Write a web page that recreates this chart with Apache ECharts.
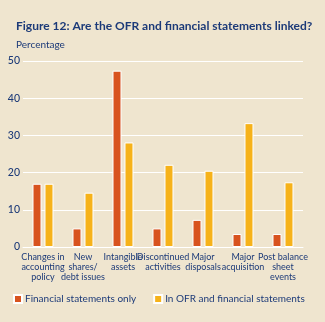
<!DOCTYPE html>
<html><head><meta charset="utf-8">
<script src="https://cdn.jsdelivr.net/npm/echarts@6/dist/echarts.min.js"></script>
<style>html,body{margin:0;padding:0;background:#efe5cf;}#c{width:325px;height:322px;}</style>
</head><body><div id="c"></div>
<script>
const categories = ['Changes in\naccounting\npolicy','New\nshares/\ndebt issues','Intangible\nassets','Discontinued\nactivities','Major\ndisposals','Major\nacquisition','Post balance\nsheet\nevents'];
const finOnly = [17, 5, 47.4, 5, 7.3, 3.5, 3.5];
const ofrAndFin = [17, 14.6, 28.1, 22.1, 20.5, 33.3, 17.4];
const yTicks = [0, 10, 20, 30, 40, 50];
const navy = '#1c3a78';
const font = 'Lato';
const chart = echarts.init(document.getElementById('c'));
chart.setOption({
  backgroundColor: '#efe5cf',
  animation: false,
  textStyle: {fontFamily: font},
  title: [
    {text: 'Figure 12: Are the OFR and financial statements linked?', left: 11, top: 15,
     textStyle: {fontFamily: font, fontSize: 12, fontWeight: 'bold', color: navy}},
    {text: 'Percentage', left: 11, top: 35, textStyle: {fontFamily: font, fontSize: 10, fontWeight: 'normal', color: navy}}
  ],
  legend: {
    bottom: 13, left: 8, itemGap: 17, itemWidth: 8, itemHeight: 8, icon: 'rect',
    textStyle: {fontFamily: font, fontSize: 10, color: navy, padding: [0,0,0,-2]},
    data: ['Financial statements only', 'In OFR and financial statements']
  },
  grid: {left: 23, right: 22, top: 61, bottom: 75, containLabel: false},
  xAxis: {
    type: 'category', data: categories,
    axisLine: {show: true, lineStyle: {color: '#ffffff', width: 1}},
    axisTick: {show: false},
    axisLabel: {interval: 0, color: navy, fontSize: 9, lineHeight: 10, margin: 5, fontFamily: font}
  },
  yAxis: {
    type: 'value', min: 0, max: 50, interval: 10,
    axisLine: {show: false}, axisTick: {show: false},
    splitLine: {lineStyle: {color: '#ffffff', width: 1}},
    axisLabel: {color: navy, fontSize: 10.5, fontWeight: 500, margin: 3, fontFamily: font,
      formatter: v => yTicks.includes(v) ? String(v) : ''}
  },
  series: [
    {name: 'Financial statements only', type: 'bar', data: finOnly, barWidth: 9, barGap: '33%',
     itemStyle: {color: '#d8531f', borderColor: '#ffffff', borderWidth: 1}},
    {name: 'In OFR and financial statements', type: 'bar', data: ofrAndFin, barWidth: 9,
     itemStyle: {color: '#f6b21a', borderColor: '#ffffff', borderWidth: 1}}
  ]
});
</script></body></html>
